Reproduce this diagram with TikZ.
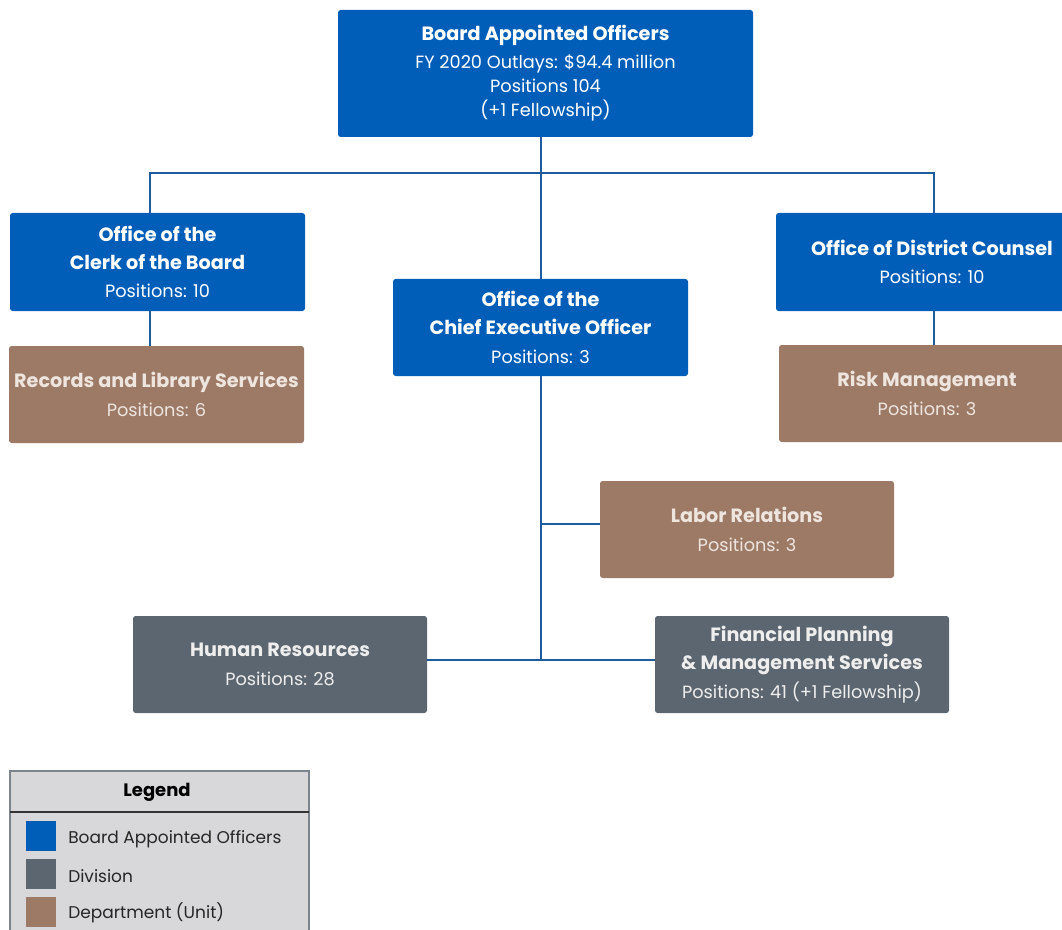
\documentclass[tikz,border=0pt]{standalone}
\usepackage{fontspec}
\setmainfont{Poppins}
\definecolor{bao}{HTML}{005EB8}
\definecolor{divi}{HTML}{5B6670}
\definecolor{dept}{HTML}{9D7A66}
\definecolor{conn}{HTML}{1F5C9E}
\definecolor{legfill}{HTML}{D8D8DA}
\definecolor{legline}{HTML}{7C858D}
\definecolor{depttxt}{HTML}{EEE5DF}
\definecolor{divitxt}{HTML}{EEEEEE}
\newcommand\ttl[1]{{\fontsize{14.4}{18}\selectfont\bfseries #1}}
\begin{document}
\begin{tikzpicture}[x=0.75pt,y=-0.75pt,
  orgbox/.style={rectangle, rounded corners=2pt, inner sep=0pt, outer sep=0pt,
    minimum width=221.25pt, minimum height=73.5pt, align=center,
    font=\fontsize{13.3}{18}\selectfont},
  boardbox/.style={orgbox, fill=bao, text=white},
  divbox/.style={orgbox, fill=divi, text=divitxt},
  deptbox/.style={orgbox, fill=dept, text=depttxt},
  link/.style={draw=conn, line width=1.7pt},
  legtext/.style={anchor=west, inner sep=0pt, font=\fontsize{12.75}{14}\selectfont, text=black!85},
  swatch/.style={rectangle, inner sep=0pt, minimum size=22.5pt}]
\useasboundingbox (0,0) rectangle (1062,930);
\clip (0,0) rectangle (1062,930);
\coordinate (jl) at (150,173);
\coordinate (jr) at (934,173);
\coordinate (lb) at (541,524);
\coordinate (hb) at (541,660);
% boxes
\node[boardbox, minimum width=311.25pt, minimum height=95.25pt] (top) at (545.5,73.5)
  {\ttl{Board Appointed Officers}\\[3pt] FY 2020 Outlays: \$94.4 million\\ Positions 104\\ (+1 Fellowship)};
\node[boardbox] (clerk) at (157.5,262) {\ttl{Office of the}\\[3pt] \ttl{Clerk of the Board}\\[3.5pt] Positions: 10};
\node[deptbox, minimum height=72.75pt] (records) at (156.5,394.5) {\ttl{Records and Library Services}\\[3.5pt] Positions: 6};
\node[boardbox, minimum height=72.75pt] (ceo) at (540.5,327.5) {\ttl{Office of the}\\[3pt] \ttl{Chief Executive Officer}\\[3.5pt] Positions: 3};
\node[boardbox, minimum width=234pt] (counsel) at (932,262) {\ttl{Office of District Counsel}\\[3.5pt] Positions: 10};
\node[deptbox, minimum width=222pt, minimum height=72.75pt] (risk) at (927,393.5) {\ttl{Risk Management}\\[3.5pt] Positions: 3};
\node[deptbox, minimum width=220.5pt, minimum height=72.75pt] (labor) at (747,529.5) {\ttl{Labor Relations}\\[3.5pt] Positions: 3};
\node[divbox, minimum width=220.5pt, minimum height=72.75pt] (hr) at (280,664.5) {\ttl{Human Resources}\\[3.5pt] Positions: 28};
\node[divbox, minimum width=220.5pt, minimum height=72.75pt] (fin) at (802,664.5) {\ttl{Financial Planning}\\[3pt] \ttl{\& Management Services}\\[3.5pt] Positions: 41 (+1 Fellowship)};
% connectors
\draw[link] (top.south -| hb) -- (ceo.north -| hb);
\draw[link] (jl |- clerk.north) -- (jl) -- (jr) -- (jr |- counsel.north);
\draw[link] (jl |- clerk.south) -- (jl |- records.north);
\draw[link] (jr |- counsel.south) -- (jr |- risk.north);
\draw[link] (ceo.south -| hb) -- (hb);
\draw[link] (lb) -- (lb -| labor.west);
\draw[link] (hb -| hr.east) -- (hb -| fin.west);
% legend
\node[rectangle, draw=legline, line width=1pt, fill=legfill, inner sep=0pt, outer sep=0pt,
  minimum width=224.25pt, minimum height=127pt, anchor=north west] (legend) at (10,771) {};
\node[font=\fontsize{13.5}{16}\selectfont\bfseries, text=black, inner sep=0pt] (legtitle) at (157,792) {Legend};
\coordinate (sepl) at (10,812);
\coordinate (sepr) at (309,812);
\draw[black!80, line width=0.8pt] (sepl) -- (sepr);
\node[swatch, fill=bao] (sw1) at (41,836) {};
\node[swatch, fill=divi] (sw2) at (41,874) {};
\node[swatch, fill=dept] (sw3) at (41,912) {};
\node[legtext] (lt1) at (68,839) {Board Appointed Officers};
\node[legtext] (lt2) at (68,876) {Division};
\node[legtext] (lt3) at (68,913) {Department (Unit)};
\end{tikzpicture}
\end{document}
